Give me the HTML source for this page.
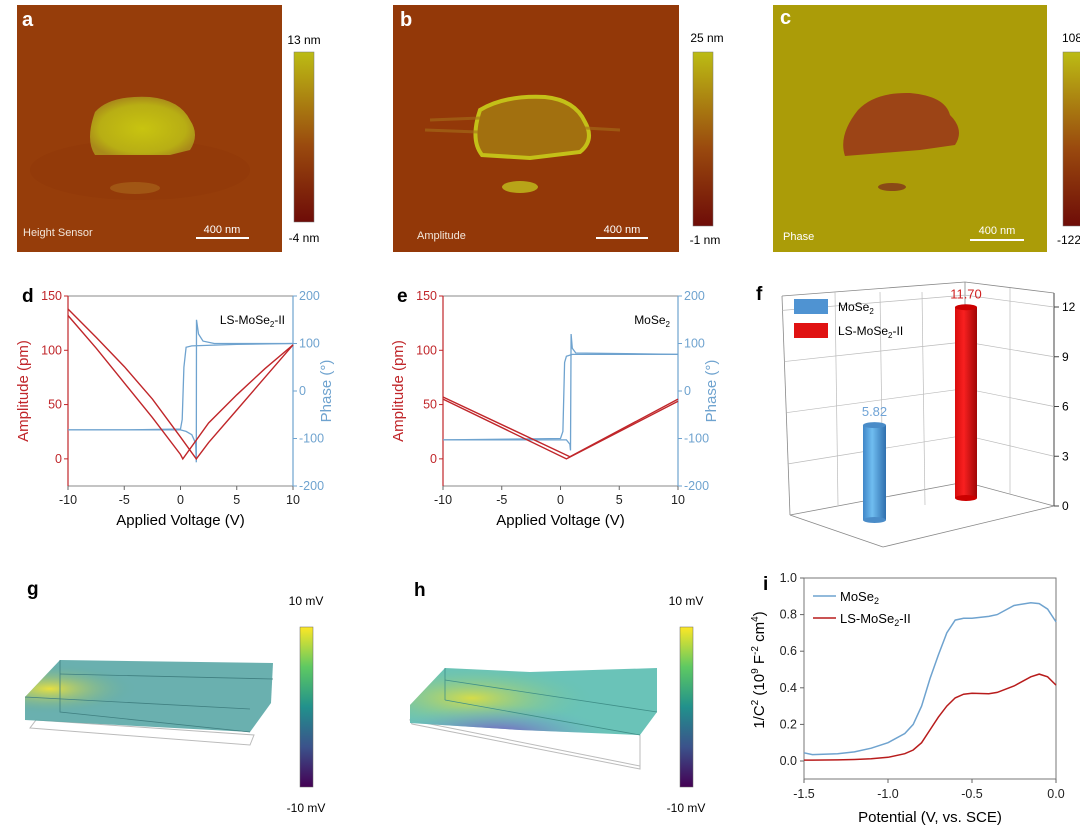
<!DOCTYPE html>
<html><head><meta charset="utf-8">
<style>
body{margin:0;background:#fff;width:1080px;height:827px;overflow:hidden;font-family:"Liberation Sans",Arial,sans-serif}
svg{position:absolute;left:0;top:0}
</style></head>
<body>
<svg id="fig" width="1080" height="827" viewBox="0 0 1080 827" xmlns="http://www.w3.org/2000/svg" font-family="Liberation Sans, Arial, sans-serif">
<defs>
<linearGradient id="cbAfm" x1="0" y1="1" x2="0" y2="0"><stop offset="0" stop-color="#6e0c08"/><stop offset="0.45" stop-color="#9a4a0e"/><stop offset="1" stop-color="#bcbc14"/></linearGradient>
<linearGradient id="cbViridis" x1="0" y1="1" x2="0" y2="0"><stop offset="0" stop-color="#440154"/><stop offset="0.25" stop-color="#3b528b"/><stop offset="0.5" stop-color="#21918c"/><stop offset="0.75" stop-color="#5ec962"/><stop offset="1" stop-color="#fde725"/></linearGradient>
<radialGradient id="flakeA" cx="0.5" cy="0.55" r="0.55"><stop offset="0" stop-color="#c8c410"/><stop offset="0.75" stop-color="#b8ae14"/><stop offset="1" stop-color="#a98a1a"/></radialGradient>
<linearGradient id="barBlue" x1="0" x2="1"><stop offset="0" stop-color="#3f86c8"/><stop offset="0.4" stop-color="#70bdf0"/><stop offset="1" stop-color="#2f6fae"/></linearGradient>
<linearGradient id="barRed" x1="0" x2="1"><stop offset="0" stop-color="#d80c0c"/><stop offset="0.4" stop-color="#f82020"/><stop offset="1" stop-color="#a00606"/></linearGradient>
<radialGradient id="gGlow" cx="0.1" cy="0.4" r="0.35"><stop offset="0" stop-color="#e8e040"/><stop offset="1" stop-color="#5ba9a4" stop-opacity="0"/></radialGradient>
<radialGradient id="hGlow" cx="0.25" cy="0.45" r="0.5"><stop offset="0" stop-color="#d6dc48"/><stop offset="1" stop-color="#62c0b0" stop-opacity="0"/></radialGradient>
<radialGradient id="hPurple" cx="0.35" cy="1" r="0.45"><stop offset="0" stop-color="#7a50c0"/><stop offset="1" stop-color="#6ab8c8" stop-opacity="0"/></radialGradient>
</defs>

<!-- Panel a -->
<g>
<rect x="17" y="5" width="265" height="247" fill="#963d0a"/>
<ellipse cx="140" cy="170" rx="110" ry="30" fill="#8a3208" opacity="0.25"/>
<path d="M95,112 Q110,95 150,97 Q180,100 190,120 Q200,135 190,150 L170,155 L95,155 Q85,140 95,112Z" fill="url(#flakeA)"/>
<ellipse cx="135" cy="188" rx="25" ry="6" fill="#a6621a" opacity="0.7"/>
<text x="22" y="26" font-size="20" font-weight="bold" fill="#fff">a</text>
<text x="23" y="236" font-size="11" fill="#f2e6da">Height Sensor</text>
<line x1="196" y1="238" x2="249" y2="238" stroke="#fff" stroke-width="2"/>
<text x="222" y="233" font-size="11" fill="#fff" text-anchor="middle">400 nm</text>
<rect x="294" y="52" width="20" height="170" fill="url(#cbAfm)" stroke="#777" stroke-width="0.5"/>
<text x="304" y="44" font-size="12" text-anchor="middle">13 nm</text>
<text x="304" y="242" font-size="12" text-anchor="middle">-4 nm</text>
</g>

<!-- Panel b -->
<g>
<rect x="393" y="5" width="286" height="247" fill="#933808"/>
<path d="M480,110 Q505,95 545,97 Q575,100 585,122 Q595,140 580,152 L530,158 L482,155 Q470,140 480,110Z" fill="#a2700f" stroke="#c4c018" stroke-width="4"/>
<path d="M430,120 L480,118 M425,130 L478,132 M585,128 L620,130" stroke="#a6701a" stroke-width="3" opacity="0.6"/>
<ellipse cx="520" cy="187" rx="18" ry="6" fill="#b8a418"/>
<text x="400" y="26" font-size="20" font-weight="bold" fill="#fff">b</text>
<text x="417" y="239" font-size="11" fill="#f2e6da">Amplitude</text>
<line x1="596" y1="238" x2="648" y2="238" stroke="#fff" stroke-width="2"/>
<text x="622" y="233" font-size="11" fill="#fff" text-anchor="middle">400 nm</text>
<rect x="693" y="52" width="20" height="174" fill="url(#cbAfm)" stroke="#777" stroke-width="0.5"/>
<text x="707" y="42" font-size="12" text-anchor="middle">25 nm</text>
<text x="705" y="244" font-size="12" text-anchor="middle">-1 nm</text>
</g>

<!-- Panel c -->
<g>
<rect x="773" y="5" width="274" height="247" fill="#ab9c08"/>
<path d="M858,110 Q875,92 910,93 Q945,96 950,115 Q965,130 955,145 L920,150 L845,156 Q838,135 858,110Z" fill="#9c4416"/>
<ellipse cx="892" cy="187" rx="14" ry="4" fill="#8a4a16"/>
<text x="780" y="24" font-size="20" font-weight="bold" fill="#fff">c</text>
<text x="783" y="240" font-size="11" fill="#fff">Phase</text>
<line x1="970" y1="240" x2="1024" y2="240" stroke="#fff" stroke-width="2"/>
<text x="997" y="234" font-size="11" fill="#fff" text-anchor="middle">400 nm</text>
<rect x="1063" y="52" width="20" height="174" fill="url(#cbAfm)" stroke="#777" stroke-width="0.5"/>
<text x="1062" y="42" font-size="12">108 d</text>
<text x="1057" y="244" font-size="12">-122</text>
</g>

<g id="gD"></g>
<g id="gE"></g>
<g id="gF"></g>

<!-- Panel g -->
<g>
<text x="27" y="595" font-size="19" font-weight="bold">g</text>
<polygon points="30,728 250,745 254,735 36,720" fill="none" stroke="#bbb" stroke-width="1"/>
<polygon points="25,697 60,660 273,663 271,703 250,732 25,720" fill="#5aa7a6" opacity="0.9"/>
<polygon points="25,697 60,660 273,663 271,703 250,732 25,720" fill="url(#gGlow)"/>
<polyline points="60,660 60,712 250,732" fill="none" stroke="#3f7f80" stroke-width="0.8"/>
<line x1="25" y1="697" x2="250" y2="709" stroke="#3f7f80" stroke-width="0.8"/>
<line x1="60" y1="674" x2="273" y2="679" stroke="#3f7f80" stroke-width="0.8"/>
<rect x="300" y="627" width="13" height="160" fill="url(#cbViridis)" stroke="#666" stroke-width="0.5"/>
<text x="306" y="605" font-size="12" text-anchor="middle">10 mV</text>
<text x="306" y="812" font-size="12" text-anchor="middle">-10 mV</text>
</g>

<!-- Panel h -->
<g>
<text x="414" y="596" font-size="19" font-weight="bold">h</text>
<polygon points="410,720 640,766 640,769 412,724" fill="none" stroke="#bbb" stroke-width="1"/>
<line x1="640" y1="735" x2="640" y2="766" stroke="#bbb"/>
<polygon points="410,705 445,668 530,672 657,668 657,712 640,735 520,730 410,723" fill="#62c0b4" opacity="0.95"/>
<polygon points="410,705 445,668 530,672 657,668 657,712 640,735 520,730 410,723" fill="url(#hGlow)"/>
<polygon points="410,705 445,668 530,672 657,668 657,712 640,735 520,730 410,723" fill="url(#hPurple)"/>
<line x1="445" y1="668" x2="445" y2="700" stroke="#3f8f88" stroke-width="0.8"/>
<line x1="445" y1="700" x2="640" y2="735" stroke="#3f8f88" stroke-width="0.8"/>
<line x1="445" y1="680" x2="657" y2="712" stroke="#3f8f88" stroke-width="0.8"/>
<rect x="680" y="627" width="13" height="160" fill="url(#cbViridis)" stroke="#666" stroke-width="0.5"/>
<text x="686" y="605" font-size="12" text-anchor="middle">10 mV</text>
<text x="686" y="812" font-size="12" text-anchor="middle">-10 mV</text>
</g>

<g id="gI"></g>
</svg>

<script>
// ---- Panel d data ----
const dVa=[-10,-7.5,-5,-2.5,0,0.2,2.5,5,7.5,10];
const dAmpA=[132,102,70,38,4,0,33,59,83,105];
const dVb=[-10,-7.5,-5,-2.5,0,1.4,2.5,5,7.5,10];
const dAmpB=[138,112,85,55,20,0,15,45,75,105];
const dPV1=[-10,-5,0,0.15,0.3,0.5,1,5,10];
const dPh1=[-82,-82,-80,-60,50,92,95,98,100];
const dPV2=[-10,0,0.5,1.0,1.35,1.4,1.42,1.6,2,3,10];
const dPh2=[-82,-82,-85,-92,-110,-150,150,120,105,100,100];
// ---- Panel e data ----
const eVa=[-10,0.5,10];
const eAmpA=[55,0,53];
const eVb=[-10,0.8,10];
const eAmpB=[57,2,55];
const ePV1=[-10,0,0.2,0.35,0.5,1,10];
const ePh1=[-103,-100,-85,60,73,77,77];
const ePV2=[-10,0.5,0.8,0.85,0.9,1.0,1.3,10];
const ePh2=[-103,-103,-112,-125,120,90,80,77];
// ---- Panel f data ----
const fCats=["MoSe2","LS-MoSe2-II"];
const fVals=[5.82,11.70];
const fTicks=[0,3,6,9,12];
// ---- Panel i data ----
const iX=[-1.5,-1.45,-1.3,-1.2,-1.1,-1.0,-0.9,-0.85,-0.8,-0.75,-0.7,-0.65,-0.6,-0.55,-0.5,-0.4,-0.35,-0.25,-0.15,-0.1,-0.05,0];
const iMo=[0.045,0.035,0.04,0.05,0.07,0.10,0.15,0.2,0.3,0.45,0.58,0.70,0.77,0.78,0.78,0.79,0.80,0.85,0.865,0.86,0.83,0.76];
const iLS=[0.005,0.005,0.006,0.008,0.012,0.02,0.04,0.06,0.10,0.17,0.24,0.30,0.345,0.365,0.37,0.368,0.375,0.41,0.46,0.475,0.46,0.415];
const iXTicks=[-1.5,-1.0,-0.5,0.0];
const iYTicks=[0.0,0.2,0.4,0.6,0.8,1.0];
const vTicks=[-10,-5,0,5,10];
const ampTicks=[0,50,100,150];
const phTicks=[-200,-100,0,100,200];

const NS="http://www.w3.org/2000/svg";
function mk(parent,tag,attrs,text){const e=document.createElementNS(NS,tag);for(const k in attrs)e.setAttribute(k,attrs[k]);if(text!==undefined)e.textContent=text;parent.appendChild(e);return e;}
function lin(d0,d1,r0,r1){return v=>r0+(v-d0)/(d1-d0)*(r1-r0);}
function pathOf(xs,ys,sx,sy){return xs.map((v,i)=>(i?'L':'M')+sx(v).toFixed(1)+','+sy(ys[i]).toFixed(1)).join(' ');}

const RED="#c0262a", BLUE="#6fa3cf";
function loopChart(g,x0,x1,label,sub,lab,data){
  const top=296,bot=486;
  const sx=lin(-10,10,x0,x1), sa=lin(-25,150,bot,top), sp=lin(-200,200,bot,top);
  const frame=mk(g,'rect',{x:x0,y:top,width:x1-x0,height:bot-top,fill:'none',stroke:'#888','stroke-width':1});
  
  
  mk(g,'line',{x1:x0,y1:top,x2:x0,y2:bot,stroke:RED,'stroke-width':1.2});
  mk(g,'line',{x1:x1,y1:top,x2:x1,y2:bot,stroke:BLUE,'stroke-width':1.2});
  vTicks.forEach(v=>{mk(g,'line',{x1:sx(v),y1:bot,x2:sx(v),y2:bot+4,stroke:'#666'});
    const t=mk(g,'text',{x:sx(v),y:bot+18,'font-size':12.5,'text-anchor':'middle',fill:'#222'},String(v));
    
    });
  ampTicks.forEach(v=>{mk(g,'line',{x1:x0-4,y1:sa(v),x2:x0,y2:sa(v),stroke:RED});
    const t=mk(g,'text',{x:x0-6,y:sa(v)+4,'font-size':12.5,'text-anchor':'end',fill:RED},String(v));
    
    });
  phTicks.forEach(v=>{mk(g,'line',{x1:x1,y1:sp(v),x2:x1+4,y2:sp(v),stroke:BLUE});
    const t=mk(g,'text',{x:x1+6,y:sp(v)+4,'font-size':12.5,fill:BLUE},String(v));
    
    });
  const l=mk(g,'text',{x:x0-46,y:top+6,'font-size':19,'font-weight':'bold'},lab);
  
  
  const yt=mk(g,'text',{transform:`translate(${x0-40},391) rotate(-90)`,'font-size':15,'text-anchor':'middle',fill:RED},'Amplitude (pm)');
  
  
  const yt2=mk(g,'text',{transform:`translate(${x1+38},391) rotate(-90)`,'font-size':15,'text-anchor':'middle',fill:BLUE},'Phase (°)');
  
  
  const xt=mk(g,'text',{x:(x0+x1)/2,y:525,'font-size':15,'text-anchor':'middle'},'Applied Voltage (V)');
  
  
  const st=mk(g,'text',{x:x1-8,y:324,'font-size':12,'text-anchor':'end'},label);
  mk(st,'tspan',{'font-size':8,dy:3},'2');
  mk(st,'tspan',{dy:-3},sub);
  
  
  [[data[4],data[5]],[data[6],data[7]]].forEach(([xs,ys])=>{
    const p=mk(g,'path',{d:pathOf(xs,ys,sx,sp),fill:'none',stroke:BLUE,'stroke-width':1.3});
    
    });
  [[data[0],data[1]],[data[2],data[3]]].forEach(([xs,ys])=>{
    const p=mk(g,'path',{d:pathOf(xs,ys,sx,sa),fill:'none',stroke:RED,'stroke-width':1.4});
    
    });
}
loopChart(document.getElementById('gD'),68,293,'LS-MoSe','-II','d',[dVa,dAmpA,dVb,dAmpB,dPV1,dPh1,dPV2,dPh2]);
loopChart(document.getElementById('gE'),443,678,'MoSe','','e',[eVa,eAmpA,eVb,eAmpB,ePV1,ePh1,ePV2,ePh2]);

// ---- Panel f ----
(function(){
  const g=document.getElementById('gF');
  const gl='#bbb';
  [[782,296,965,282],[965,282,1054,293],[782,296,790,515],[965,282,965,482],[790,515,883,547],[883,547,1054,506],[790,515,965,482],[965,482,1054,506]].forEach(a=>{
    mk(g,'line',{x1:a[0],y1:a[1],x2:a[2],y2:a[3],stroke:'#888','stroke-width':0.8});});
  mk(g,'line',{x1:1054,y1:293,x2:1054,y2:506,stroke:'#444','stroke-width':1});
  const sR=lin(0,12,506,307);
  fTicks.forEach(v=>{
    const y=sR(v), f=(506-y)/213;
    if(v>0){
      mk(g,'line',{x1:965,y1:482-(482-282)*f,x2:1054,y2:y,stroke:gl,'stroke-width':0.7});
      mk(g,'line',{x1:790-8*f,y1:515-(515-296)*f,x2:965,y2:482-(482-282)*f,stroke:gl,'stroke-width':0.7});
    }
    mk(g,'line',{x1:1054,y1:y,x2:1059,y2:y,stroke:'#444'});
    const t=mk(g,'text',{x:1062,y:y+4,'font-size':12},String(v));
    
    
  });
  [835,880,922].forEach(x=>mk(g,'line',{x1:x,y1:292,x2:x+3,y2:505,stroke:gl,'stroke-width':0.7}));
  [1010].forEach(x=>mk(g,'line',{x1:x,y1:288,x2:x,y2:494,stroke:gl,'stroke-width':0.7}));
  const bars=[{x:863,w:23,base:520,fill:'url(#barBlue)',col:'#6fa3d6',cap:'#4a8cc8'},{x:955,w:22,base:498,fill:'url(#barRed)',col:'#d02020',cap:'#c00'}];
  const pxPerUnit=16.3;
  fVals.forEach((v,i)=>{
    const b=bars[i], h=v*pxPerUnit, top=b.base-h;
    const r=mk(g,'rect',{x:b.x,y:top,width:b.w,height:h,fill:b.fill});
    
    
    mk(g,'ellipse',{cx:b.x+b.w/2,cy:top,rx:b.w/2,ry:3,fill:b.cap});
    mk(g,'ellipse',{cx:b.x+b.w/2,cy:b.base,rx:b.w/2,ry:3,fill:b.cap});
    const t=mk(g,'text',{x:b.x+b.w/2,y:top-9,'font-size':13,'text-anchor':'middle',fill:b.col},v.toFixed(2));
    
    
  });
  const fl=mk(g,'text',{x:756,y:300,'font-size':19,'font-weight':'bold'},'f');
  
  
  const sw=[['#4f93d2',fCats[0]],['#e01212',fCats[1]]];
  sw.forEach((s,i)=>{
    const y=299+i*24;
    const r=mk(g,'rect',{x:794,y:y,width:34,height:15,fill:s[0]});
    
    
    const t=mk(g,'text',{x:838,y:y+12,'font-size':12});
    const parts=s[1].split('2');
    mk(t,'tspan',{},parts[0]);mk(t,'tspan',{'font-size':8,dy:3},'2');mk(t,'tspan',{dy:-3},parts[1]);
    
    
  });
})();

// ---- Panel i ----
(function(){
  const g=document.getElementById('gI');
  const x0=804,x1=1056,top=578,bot=779;
  const sx=lin(-1.5,0,x0,x1), sy=lin(0,1,761,578);
  mk(g,'rect',{x:x0,y:top,width:x1-x0,height:bot-top,fill:'none',stroke:'#777','stroke-width':1});
  iXTicks.forEach(v=>{mk(g,'line',{x1:sx(v),y1:bot,x2:sx(v),y2:bot+4,stroke:'#666'});
    const t=mk(g,'text',{x:sx(v),y:bot+19,'font-size':12.5,'text-anchor':'middle',fill:'#222'},v.toFixed(1));
    
    });
  iYTicks.forEach(v=>{mk(g,'line',{x1:x0-4,y1:sy(v),x2:x0,y2:sy(v),stroke:'#666'});
    const t=mk(g,'text',{x:x0-7,y:sy(v)+4,'font-size':12.5,'text-anchor':'end',fill:'#222'},v.toFixed(1));
    
    });
  const l=mk(g,'text',{x:763,y:590,'font-size':19,'font-weight':'bold'},'i');
  
  
  const yt=mk(g,'text',{transform:'translate(764,670) rotate(-90)','font-size':15,'text-anchor':'middle'});
  mk(yt,'tspan',{},'1/C');mk(yt,'tspan',{'font-size':10,dy:-6},'2');mk(yt,'tspan',{dy:6},' (10');mk(yt,'tspan',{'font-size':10,dy:-6},'9');mk(yt,'tspan',{dy:6},' F');mk(yt,'tspan',{'font-size':10,dy:-6},'-2');mk(yt,'tspan',{dy:6},' cm');mk(yt,'tspan',{'font-size':10,dy:-6},'4');mk(yt,'tspan',{dy:6},')');
  
  
  const xt=mk(g,'text',{x:930,y:822,'font-size':15,'text-anchor':'middle'},'Potential (V, vs. SCE)');
  
  
  const p1=mk(g,'path',{d:pathOf(iX,iMo,sx,sy),fill:'none',stroke:'#6fa3cf','stroke-width':1.5});
  
  
  const p2=mk(g,'path',{d:pathOf(iX,iLS,sx,sy),fill:'none',stroke:'#b81c1c','stroke-width':1.5});
  
  
  [['#6fa3cf','MoSe','',596],['#b81c1c','LS-MoSe','-II',618]].forEach(e=>{
    mk(g,'line',{x1:813,y1:e[3],x2:836,y2:e[3],stroke:e[0],'stroke-width':1.5});
    const t=mk(g,'text',{x:840,y:e[3]+5,'font-size':13});
    mk(t,'tspan',{},e[1]);mk(t,'tspan',{'font-size':9,dy:3},'2');mk(t,'tspan',{dy:-3},e[2]);
    
    
  });
})();
</script>
</body></html>
